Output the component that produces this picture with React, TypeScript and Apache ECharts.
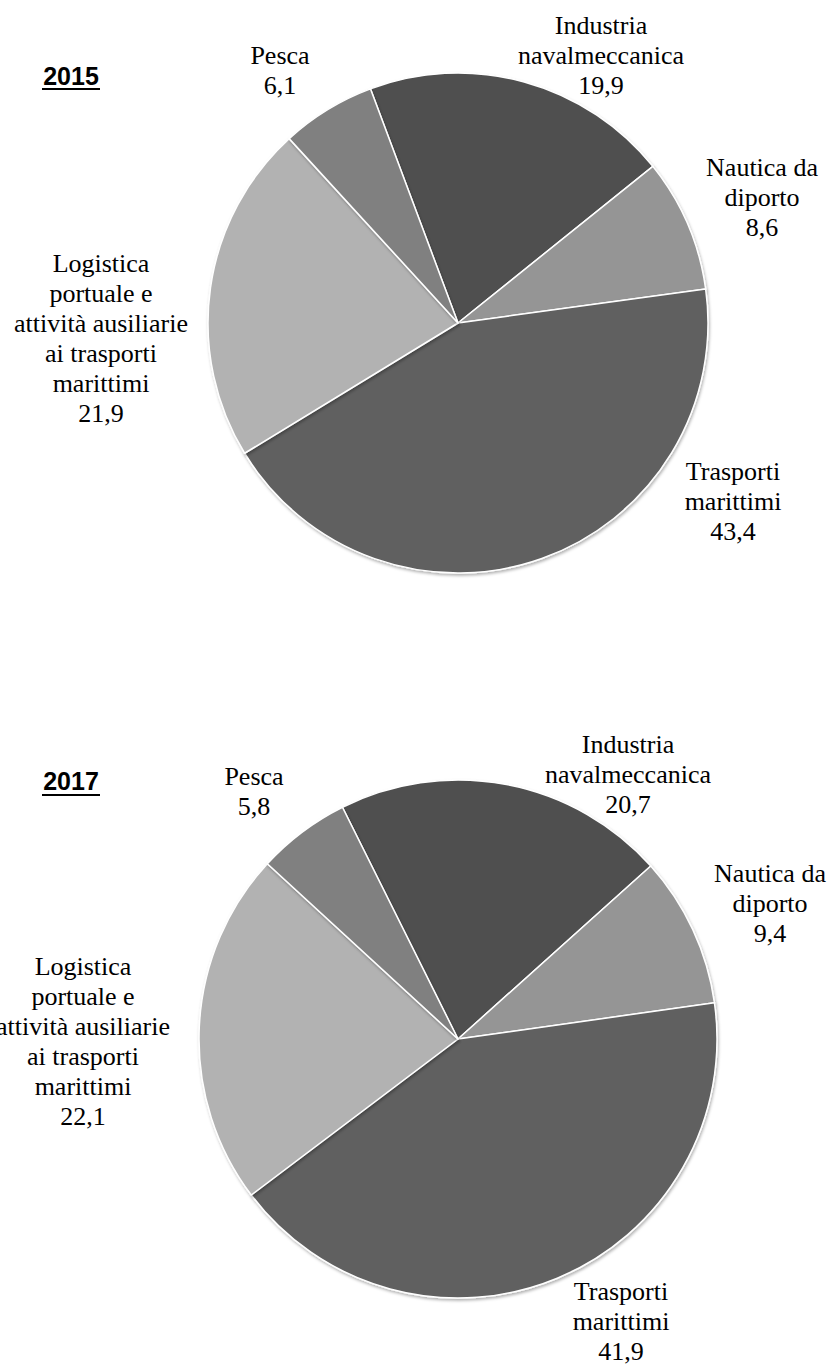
import React, { useEffect, useRef } from "react";
import * as echarts from "echarts";

// Categories in clockwise drawing order (label text carries the line breaks)
const categories = [
  "Industria\nnavalmeccanica",
  "Nautica da\ndiporto",
  "Trasporti\nmarittimi",
  "Logistica\nportuale e\nattività ausiliarie\nai trasporti\nmarittimi",
  "Pesca",
];
const values2015 = [19.9, 8.6, 43.4, 21.9, 6.1];
const values2017 = [20.7, 9.4, 41.9, 22.1, 5.8];
const years = ["2015", "2017"];

const sliceColors = ["#505050", "#959595", "#606060", "#b2b2b2", "#808080"];

// label block centres per year, same order as categories
const labelPos2015 = [
  [601, 55],
  [762, 197],
  [733, 501],
  [101, 338],
  [280, 70],
];
const labelPos2017 = [
  [628, 774],
  [770, 903],
  [621, 1321],
  [83, 1041],
  [254, 791],
];

const SERIF = "'Liberation Serif', 'Times New Roman', 'DejaVu Serif', serif";

function fmt(v: number) {
  return v.toFixed(1).replace(".", ",");
}

function makeSeries(values: number[], center: [number, number], radius: number, startAngle: number, pos: number[][]) {
  return {
    type: "pie",
    center,
    radius,
    startAngle,
    clockwise: true,
    avoidLabelOverlap: false,
    data: categories.map((c, i) => ({
      name: c,
      value: values[i],
      itemStyle: { color: sliceColors[i] },
    })),
    itemStyle: {
      borderColor: "#ffffff",
      borderWidth: 1.5,
      shadowColor: "rgba(0,0,0,0.3)",
      shadowBlur: 3,
      shadowOffsetX: 1,
      shadowOffsetY: 2,
    },
    label: {
      show: true,
      position: "outside",
      formatter: (p: any) => p.name + "\n" + fmt(p.value),
      fontFamily: SERIF,
      fontSize: 26,
      lineHeight: 30,
      color: "#000000",
      align: "center",
    },
    labelLine: { show: false },
    labelLayout: (p: any) => ({
      x: pos[p.dataIndex][0],
      y: pos[p.dataIndex][1],
      align: "center",
      verticalAlign: "middle",
    }),
    emphasis: { disabled: true },
  };
}

export default function App() {
  const ref = useRef<HTMLDivElement>(null);
  useEffect(() => {
    document.body.style.margin = "0";
    const chart = echarts.init(ref.current!, null, { renderer: "svg" });
    const titleStyle = {
      fontFamily: "'Liberation Sans', Arial, sans-serif",
      fontWeight: "bold",
      fontSize: 25,
      fill: "#000",
      textAlign: "center",
      textVerticalAlign: "middle",
    };
    chart.setOption({
      animation: false,
      backgroundColor: "#ffffff",
      series: [
        makeSeries(values2015, [458, 323], 250, 110.5, labelPos2015),
        makeSeries(values2017, [458, 1039], 259, 116.5, labelPos2017),
      ],
      graphic: [
        { type: "text", x: 71, y: 76, style: { ...titleStyle, text: years[0] } },
        { type: "line", shape: { x1: 42, y1: 89, x2: 100, y2: 89 }, style: { stroke: "#000", lineWidth: 2 } },
        { type: "text", x: 71, y: 781, style: { ...titleStyle, text: years[1] } },
        { type: "line", shape: { x1: 42, y1: 795, x2: 100, y2: 795 }, style: { stroke: "#000", lineWidth: 2 } },
      ],
    });
    return () => chart.dispose();
  }, []);
  return <div ref={ref} style={{ position: "fixed", left: 0, top: 0, width: 827, height: 1365 }} />;
}
